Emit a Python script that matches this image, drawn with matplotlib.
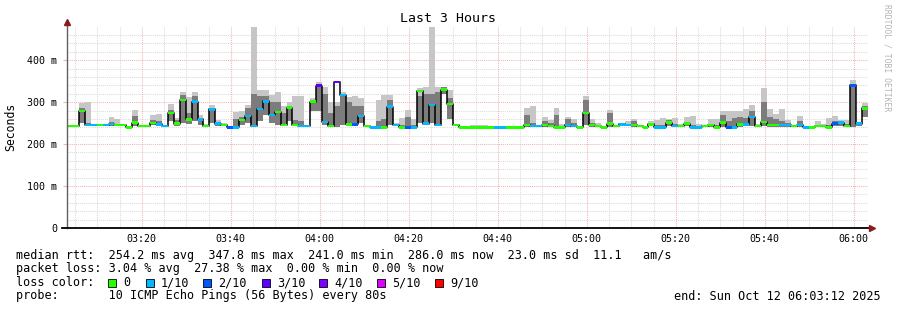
import matplotlib
matplotlib.use('Agg')
import matplotlib.pyplot as plt
import numpy as np
from matplotlib.patches import Rectangle

W, H = 897, 310
MONO = 'DejaVu Sans Mono'

# ---- data -------------------------------------------------------------
start_min = 3 * 60 + 3 + 12 / 60.0        # 03:03:12
step_min = 80 / 60.0                      # one probe round every 80 s

median = [243, 243, 279, 245, 245, 245, 245, 248, 245, 245,
          240, 251, 243, 243, 250, 247, 243, 274, 249, 305,
          259, 301, 259, 243, 283, 249, 245, 240, 240, 257,
          267, 243, 284, 302, 269, 277, 245, 287, 245, 243,
          243, 301, 339, 253, 243, 348, 317, 247, 247, 267,
          243, 240, 240, 240, 289, 245, 240, 240, 240, 326,
          249, 293, 245, 330, 295, 245, 240, 240, 240, 240,
          240, 240, 240, 240, 240, 240, 240, 245, 243, 243,
          245, 243, 240, 240, 245, 243, 240, 274, 245, 243,
          240, 249, 243, 247, 245, 245, 243, 240, 247, 240,
          240, 251, 243, 243, 249, 240, 240, 243, 245, 240,
          251, 240, 240, 247, 247, 264, 243, 253, 245, 245,
          245, 245, 243, 245, 240, 240, 243, 243, 240, 249,
          251, 243, 340, 249, 285]

loss = [0, 0, 0, 1, 1, 0, 1, 1, 0, 0,
        0, 0, 0, 0, 0, 1, 1, 0, 0, 0,
        0, 1, 1, 0, 1, 1, 0, 2, 1, 0,
        1, 1, 1, 1, 1, 0, 0, 0, 0, 1,
        1, 0, 3, 1, 0, 3, 1, 0, 2, 1,
        0, 1, 1, 0, 1, 1, 0, 2, 1, 0,
        1, 1, 1, 0, 0, 0, 0, 0, 0, 0,
        0, 0, 1, 1, 0, 0, 0, 0, 1, 1,
        0, 0, 0, 0, 1, 1, 0, 0, 0, 0,
        0, 0, 0, 1, 1, 0, 0, 0, 0, 1,
        1, 0, 1, 0, 0, 1, 1, 0, 0, 0,
        0, 2, 1, 0, 1, 1, 0, 0, 0, 0,
        1, 1, 0, 1, 1, 0, 0, 0, 0, 2,
        1, 0, 2, 1, 0]

smoke_top = [245, 246, 297, 300, 247, 247, 247, 265, 260, 247,
             243, 281, 245, 245, 270, 272, 245, 295, 262, 325,
             313, 325, 270, 247, 294, 257, 250, 242, 277, 280,
             293, 478, 330, 330, 317, 325, 290, 300, 314, 314,
             245, 309, 348, 335, 300, 300, 323, 312, 315, 309,
             245, 242, 305, 318, 317, 250, 261, 281, 260, 334,
             336, 478, 335, 337, 328, 247, 242, 242, 245, 246,
             246, 242, 242, 242, 242, 242, 242, 285, 290, 245,
             265, 257, 286, 247, 264, 260, 242, 314, 260, 250,
             242, 281, 245, 249, 254, 260, 245, 242, 254, 257,
             263, 260, 262, 248, 265, 267, 248, 246, 260, 260,
             279, 279, 279, 280, 283, 293, 248, 334, 283, 272,
             283, 257, 245, 266, 242, 242, 254, 248, 261, 266,
             257, 257, 352, 252, 298]

smoke_mid = [243, 243, 285, 250, 245, 245, 245, 252, 247, 245,
             241, 268, 243, 243, 258, 255, 243, 282, 258, 318,
             275, 315, 262, 244, 285, 252, 246, 240, 260, 265,
             285, 319, 315, 315, 300, 300, 275, 290, 258, 255,
             243, 305, 343, 320, 275, 290, 318, 300, 290, 290,
             243, 240, 255, 260, 305, 247, 245, 265, 245, 315,
             320, 320, 325, 335, 310, 245, 240, 240, 241, 241,
             241, 240, 240, 240, 240, 240, 240, 270, 250, 243,
             255, 250, 270, 243, 260, 250, 240, 305, 250, 245,
             240, 275, 243, 247, 247, 255, 243, 240, 250, 245,
             245, 258, 248, 245, 252, 245, 243, 243, 248, 245,
             270, 255, 262, 265, 262, 280, 245, 300, 265, 260,
             255, 250, 243, 255, 240, 240, 245, 245, 245, 255,
             253, 248, 340, 250, 290]

smoke_bot = [241, 241, 250, 243, 243, 243, 243, 244, 243, 243,
             239, 244, 241, 241, 245, 244, 241, 255, 244, 250,
             248, 255, 245, 241, 250, 244, 243, 238, 238, 245,
             250, 245, 255, 270, 250, 245, 243, 255, 243, 241,
             241, 280, 280, 245, 241, 240, 245, 243, 243, 250,
             241, 238, 238, 238, 245, 243, 238, 238, 238, 250,
             245, 250, 243, 320, 260, 243, 238, 238, 238, 238,
             238, 238, 238, 238, 238, 238, 238, 240, 240, 240,
             240, 240, 238, 238, 240, 240, 238, 245, 240, 240,
             238, 240, 240, 243, 243, 240, 240, 238, 243, 238,
             238, 243, 240, 240, 243, 238, 238, 240, 240, 238,
             240, 238, 238, 240, 243, 243, 240, 243, 240, 240,
             240, 240, 240, 240, 238, 238, 240, 240, 238, 243,
             243, 240, 240, 243, 265]

loss_colors = ['#26ff00', '#00b8ff', '#0059ff', '#5e00ff', '#7e00ff', '#dd00ff', '#ff0000']
loss_labels = ['0', '1/10', '2/10', '3/10', '4/10', '5/10', '9/10']

y_ticks = [0, 100, 200, 300, 400]
y_tick_labels = ['0', '100 m', '200 m', '300 m', '400 m']
x_ticks = [200, 220, 240, 260, 280, 300, 320, 340, 360]
x_tick_labels = ['03:20', '03:40', '04:00', '04:20', '04:40', '05:00', '05:20', '05:40', '06:00']

title = 'Last 3 Hours'
y_label = 'Seconds'
stat_lines = [
    'median rtt:  254.2 ms avg  347.8 ms max  241.0 ms min  286.0 ms now  23.0 ms sd  11.1   am/s',
    'packet loss: 3.04 % avg  27.38 % max  0.00 % min  0.00 % now',
    'loss color:',
    'probe:       10 ICMP Echo Pings (56 Bytes) every 80s',
]
end_text = 'end: Sun Oct 12 06:03:12 2025'
watermark = 'RRDTOOL / TOBI OETIKER'

# ---- figure -------------------------------------------------------------
fig = plt.figure(figsize=(W / 100, H / 100), dpi=100)
fig.patch.set_facecolor('white')

L, R, T, B = 67, 868, 27, 228
ax = fig.add_axes([L / W, (H - B) / H, (R - L) / W, (B - T) / H])
ax.set_facecolor('white')
x0 = start_min
x1 = start_min + 180
ax.set_xlim(x0, x1)
ax.set_ylim(0, 479)
for s in ax.spines.values():
    s.set_visible(False)

dot = (0, (1, 1))
minor_c = '#dadada'
major_c = '#f6b4b4'
# minor grid
for yv in np.arange(20, 479, 20):
    if yv % 100:
        ax.axhline(yv, color=minor_c, lw=0.75, ls=dot, zorder=0)
for xv in np.arange(185, x1, 5):
    if xv % 20:
        ax.axvline(xv, color=minor_c, lw=0.75, ls=dot, zorder=0)
# major grid
for yv in y_ticks[1:]:
    ax.axhline(yv, color=major_c, lw=0.75, ls=dot, zorder=1)
for xv in x_ticks:
    ax.axvline(xv, color=major_c, lw=0.75, ls=dot, zorder=1)

n = len(median)
xs = start_min + np.arange(n) * step_min
med = np.array(median, float)
top = np.array(smoke_top, float)
mid = np.array(smoke_mid, float)
bot = np.array(smoke_bot, float)

ax.bar(xs, top - bot, bottom=bot, width=step_min, align='edge',
       color='#c6c6c6', lw=0, zorder=2)
ax.bar(xs, mid - bot, bottom=bot, width=step_min, align='edge',
       color='#7c7c7c', lw=0, zorder=3)

xe = np.append(xs, xs[-1] + step_min)
ye = np.append(med, med[-1])
ax.step(xe, ye, where='post', color='black', lw=1.1, zorder=4)

ax.bar(xs, 6.0, bottom=med - 3.0, width=step_min, align='edge',
       color=[loss_colors[l] for l in loss], lw=0, zorder=5)

# ticks
ax.set_yticks(y_ticks)
ax.set_yticklabels(y_tick_labels, family=MONO, fontsize=7.2)
ax.set_xticks(x_ticks)
ax.set_xticklabels(x_tick_labels, family=MONO, fontsize=7.2)
ax.tick_params(axis='y', length=3, color=major_c, pad=4)
ax.tick_params(axis='x', length=0, pad=4)

# axis lines with arrows
ax.plot([0, 0], [0, 1.02], transform=ax.transAxes, color='#606060',
        lw=1, clip_on=False, zorder=6)
ax.plot([-5 / 801, 1.002], [0, 0], transform=ax.transAxes, color='black',
        lw=1.3, clip_on=False, zorder=6)
ax.plot([0], [1.025], transform=ax.transAxes, marker='^', color='#8b1a1a',
        ms=4, clip_on=False, zorder=7)
ax.plot([1.005], [0], transform=ax.transAxes, marker='>', color='#8b1a1a',
        ms=4, clip_on=False, zorder=7)


def ftext(x, y, s, **kw):
    fig.text(x / W, 1 - y / H, s, **kw)


ftext(448, 19, title, family=MONO, fontsize=9.5, ha='center', va='center')
ftext(11, 127, y_label, family=MONO, fontsize=8.3, ha='center', va='center',
      rotation=90)
ftext(887, 4, watermark, family=MONO, fontsize=5.8, ha='center', va='top',
      rotation=270, color='#b4b4b4')

line_y = [255, 268.5, 282.5, 296]
for s, yy in zip(stat_lines, line_y):
    ftext(16, yy, s, family=MONO, fontsize=8.5, ha='left', va='center')
ftext(881, 296, end_text, family=MONO, fontsize=8.5, ha='right', va='center')

sq_x = [108.3, 145.7, 203.3, 261.7, 319.0, 376.7, 435.0]
for sx, c, lab in zip(sq_x, loss_colors, loss_labels):
    fig.patches.append(Rectangle((sx / W, 1 - 286.5 / H), 8 / W, 8 / H,
                                 transform=fig.transFigure, facecolor=c,
                                 edgecolor='black', lw=0.6))
    ftext(sx + 15, 282.5, lab, family=MONO, fontsize=8.5, ha='left', va='center')

fig.savefig('out.png', dpi=100, facecolor='white')
